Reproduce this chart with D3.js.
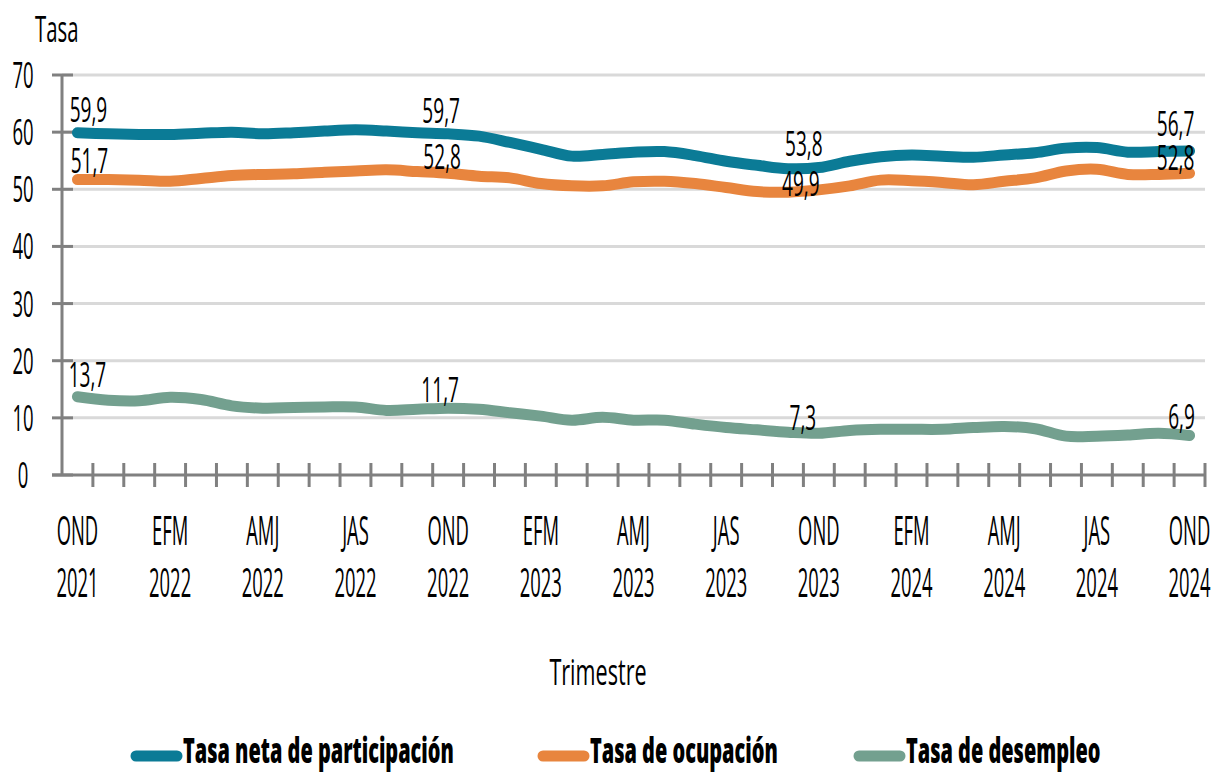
<!DOCTYPE html>
<html lang="es">
<head>
  <meta charset="UTF-8">
  <title>Tasas del mercado laboral</title>
  <style>
    body { margin: 0; background: #fff; }
    text { font-family: "Open Sans", "Noto Sans", sans-serif; fill: #000; }
    .grid line { stroke: #d9d9d9; stroke-width: 3px; }
    .axis line, .axis path { stroke: #808080; stroke-width: 3px; fill: none; }
    .serie { fill: none; stroke-width: 11px; stroke-linecap: round; stroke-linejoin: round; }
  </style>
</head>
<body>
<div id="chart"></div>
<script src="https://d3js.org/d3.v7.min.js"></script>
<script>
  // trimestres moviles
  var trimestres = ["OND 2021","NDE 2022","DEF 2022","EFM 2022","FMA 2022","MAM 2022","AMJ 2022","MJJ 2022","JJA 2022","JAS 2022","ASO 2022","SON 2022",
    "OND 2022","NDE 2023","DEF 2023","EFM 2023","FMA 2023","MAM 2023","AMJ 2023","MJJ 2023","JJA 2023","JAS 2023","ASO 2023","SON 2023",
    "OND 2023","NDE 2024","DEF 2024","EFM 2024","FMA 2024","MAM 2024","AMJ 2024","MJJ 2024","JJA 2024","JAS 2024","ASO 2024","SON 2024","OND 2024"];

  var participacion = [59.9,59.7,59.6,59.6,59.8,60.0,59.7,59.9,60.2,60.4,60.2,59.9,
    59.7,59.3,58.2,57.0,55.8,56.1,56.5,56.6,55.9,54.9,54.2,53.6,
    53.8,54.9,55.7,56.0,55.8,55.6,56.0,56.4,57.2,57.3,56.5,56.6,56.7];
  var ocupacion = [51.7,51.7,51.6,51.4,51.9,52.4,52.6,52.7,53.0,53.2,53.4,53.1,
    52.8,52.3,52.0,51.0,50.6,50.6,51.3,51.4,51.0,50.3,49.6,49.5,
    49.9,50.6,51.6,51.5,51.2,50.8,51.4,52.0,53.2,53.5,52.6,52.6,52.8];
  var desempleo = [13.7,13.1,13.0,13.6,13.2,12.1,11.7,11.8,11.9,11.9,11.3,11.5,
    11.7,11.5,10.9,10.3,9.6,10.1,9.6,9.6,8.9,8.3,7.9,7.5,
    7.3,7.8,8.0,8.0,8.0,8.3,8.5,8.1,6.8,6.8,7.0,7.3,6.9];

  var yTicks = [0, 10, 20, 30, 40, 50, 60, 70];
  var etiquetasX = ["OND 2021","EFM 2022","AMJ 2022","JAS 2022","OND 2022","EFM 2023","AMJ 2023","JAS 2023","OND 2023","EFM 2024","AMJ 2024","JAS 2024","OND 2024"];
  var puntosEtiquetados = [0, 12, 24, 36];

  var series = [
    { nombre: "Tasa neta de participación", valores: participacion, color: "#0b7b96",
      off: [[11, -11], [-7, -11], [-15, -12], [-14, -15]] },
    { nombre: "Tasa de ocupación", valores: ocupacion, color: "#e8853e",
      off: [[12, -7], [-6, -4], [-18, 6], [-14, -3]] },
    { nombre: "Tasa de desempleo", valores: desempleo, color: "#73a08f",
      off: [[10, -10], [-8, -6], [-16, -3], [-8, -7]] }
  ];

  var W = 1218, H = 774;
  var svg = d3.select("#chart").append("svg").attr("width", W).attr("height", H);

  // texto condensado
  function ctext(g, x, y, str, size, sx, anchor, weight) {
    return g.append("text")
      .attr("transform", "translate(" + x + "," + y + ") scale(" + sx + ",1)")
      .attr("text-anchor", anchor || "middle")
      .style("font-size", size + "px")
      .style("font-weight", weight || "normal")
      .text(str);
  }

  var x = d3.scaleBand().domain(trimestres).range([62, 1205]);
  var y = d3.scaleLinear().domain([0, 70]).range([475, 75]);
  var cx = function(i) { return x(trimestres[i]) + x.bandwidth() / 2; };

  // lineas de cuadricula
  svg.append("g").attr("class", "grid")
    .selectAll("line").data(yTicks.filter(function(d) { return d > 0; }))
    .enter().append("line")
    .attr("x1", 62).attr("x2", 1205)
    .attr("y1", function(d) { return y(d); })
    .attr("y2", function(d) { return y(d); });

  // eje y
  var gy = svg.append("g").attr("class", "axis");
  gy.append("line").attr("x1", 62).attr("x2", 62).attr("y1", y(70)).attr("y2", y(0));
  gy.selectAll(".tk").data(yTicks).enter().append("line")
    .attr("x1", 52).attr("x2", 73)
    .attr("y1", function(d) { return y(d); }).attr("y2", function(d) { return y(d); });
  yTicks.forEach(function(d) {
    ctext(svg, 23, y(d) + 13, String(d), 37, 0.5, "middle");
  });

  // eje x
  var gx = svg.append("g").attr("class", "axis");
  gx.append("line").attr("x1", 52).attr("x2", 1206).attr("y1", y(0)).attr("y2", y(0));
  var bordes = trimestres.map(function(t) { return x(t); }).concat([x.range()[1]]);
  gx.selectAll(".tk").data(bordes.slice(1)).enter().append("line")
    .attr("x1", function(d) { return d; }).attr("x2", function(d) { return d; })
    .attr("y1", y(0) - 12).attr("y2", y(0) + 12);

  etiquetasX.forEach(function(t) {
    var px = x(t) + x.bandwidth() / 2;
    var partes = t.split(" ");
    ctext(svg, px, 545, partes[0], 40, 0.46, "middle");
    ctext(svg, px, 597, partes[1], 40, 0.46, "middle");
  });

  // titulos de ejes
  ctext(svg, 35, 42, "Tasa", 37, 0.55, "start");
  ctext(svg, 598, 685, "Trimestre", 36, 0.6, "middle");

  // series
  var linea = d3.line()
    .x(function(d, i) { return cx(i); })
    .y(function(d) { return y(d); })
    .curve(d3.curveCatmullRom.alpha(0.5));

  series.forEach(function(s) {
    svg.append("path").attr("class", "serie")
      .attr("stroke", s.color)
      .attr("d", linea(s.valores));
  });

  // etiquetas de datos
  series.forEach(function(s) {
    puntosEtiquetados.forEach(function(i, k) {
      var v = s.valores[i];
      ctext(svg, cx(i) + s.off[k][0], y(v) + s.off[k][1],
        d3.format(".1f")(v).replace(".", ","), 34, 0.56, "middle");
    });
  });

  // leyenda
  var leyendaX = [130, 537, 853];
  series.forEach(function(s, k) {
    var lx = leyendaX[k];
    svg.append("line")
      .attr("x1", lx + 6).attr("x2", lx + 47)
      .attr("y1", 756).attr("y2", 756)
      .attr("stroke", s.color).attr("stroke-width", 11).attr("stroke-linecap", "round");
    ctext(svg, lx + 53, 763, s.nombre, 35, 0.57, "start", 800);
  });
</script>
</body>
</html>
